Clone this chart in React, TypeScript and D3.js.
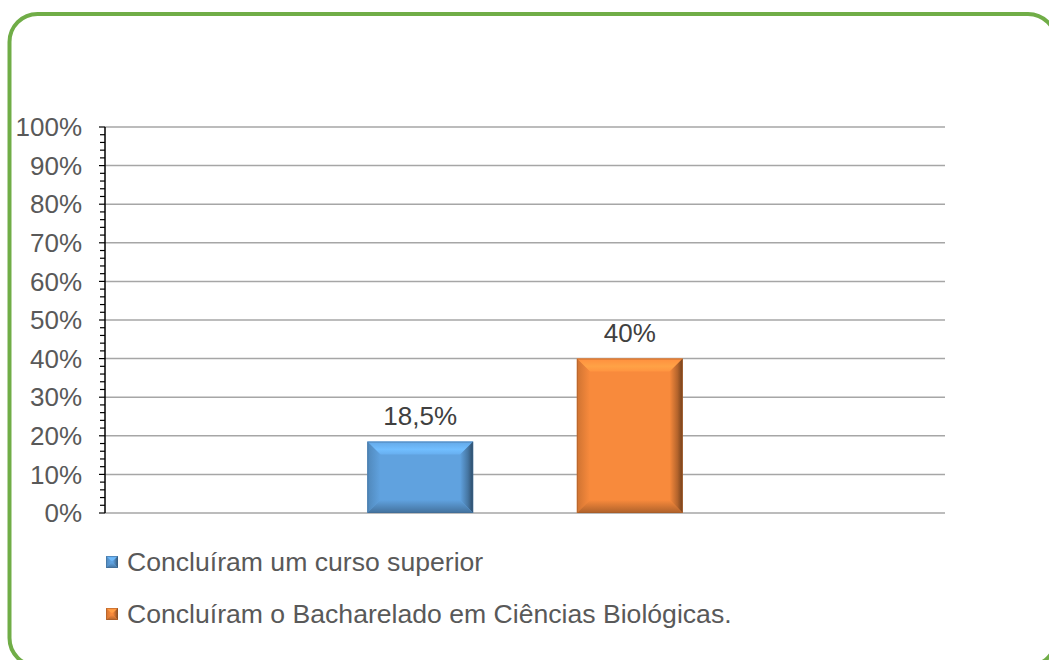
import React from "react";
import * as d3 from "d3";

const seriesNames = [
  "Concluíram um curso superior",
  "Concluíram o Bacharelado em Ciências Biológicas.",
];
const seriesValues = [18.5, 40];
const valueLabels = ["18,5%", "40%"];
const seriesColors = ["#60A2DF", "#F88A3C"];
const yTicks = [0, 10, 20, 30, 40, 50, 60, 70, 80, 90, 100];

const W = 1049;
const H = 660;
const plotLeft = 105;
const plotRight = 945;
const plotTop = 127;
const plotBottom = 513;

function shade(c: string, k: number) {
  const col = d3.color(c)!;
  return k > 0 ? col.brighter(k).formatHex() : col.darker(-k).formatHex();
}

function BevelRect({ id, x, y, w, h, color, b }: { id: string; x: number; y: number; w: number; h: number; color: string; b: number }) {
  const bb = Math.min(b, w / 2, h / 2);
  const x2 = x + w, y2 = y + h;
  return (
    <g>
      <defs>
        <linearGradient id={id + "t"} x1="0" y1="0" x2="0" y2="1">
          <stop offset="0" stopColor={shade(color, 0.1)} />
          <stop offset="0.6" stopColor={shade(color, 0.45)} />
          <stop offset="1" stopColor={shade(color, 0.2)} />
        </linearGradient>
        <linearGradient id={id + "l"} x1="0" y1="0" x2="1" y2="0">
          <stop offset="0" stopColor={shade(color, -0.5)} />
          <stop offset="1" stopColor={color} />
        </linearGradient>
        <linearGradient id={id + "r"} x1="0" y1="0" x2="1" y2="0">
          <stop offset="0" stopColor={color} />
          <stop offset="0.6" stopColor={shade(color, -0.9)} />
          <stop offset="1" stopColor={shade(color, -2.2)} />
        </linearGradient>
        <linearGradient id={id + "b"} x1="0" y1="0" x2="0" y2="1">
          <stop offset="0" stopColor={color} />
          <stop offset="1" stopColor={shade(color, -1.0)} />
        </linearGradient>
      </defs>
      <rect x={x} y={y} width={w} height={h} fill={color} />
      <polygon points={`${x},${y} ${x2},${y} ${x2 - bb},${y + bb} ${x + bb},${y + bb}`} fill={`url(#${id}t)`} />
      <polygon points={`${x},${y} ${x + bb},${y + bb} ${x + bb},${y2 - bb} ${x},${y2}`} fill={`url(#${id}l)`} />
      <polygon points={`${x2},${y} ${x2},${y2} ${x2 - bb},${y2 - bb} ${x2 - bb},${y + bb}`} fill={`url(#${id}r)`} />
      <polygon points={`${x},${y2} ${x + bb},${y2 - bb} ${x2 - bb},${y2 - bb} ${x2},${y2}`} fill={`url(#${id}b)`} />
      <rect x={x + 0.5} y={y + 0.5} width={w - 1} height={h - 1} fill="none" stroke={shade(color, -1.2)} strokeOpacity={0.5} strokeWidth={1} />
    </g>
  );
}

export default function App() {
  const y = d3.scaleLinear().domain([0, 100]).range([plotBottom, plotTop]);
  const x = d3
    .scaleBand<string>()
    .domain(seriesNames)
    .range([plotLeft, plotRight])
    .paddingInner(0.495)
    .paddingOuter(1.252);
  const minor = d3.range(0, 100.001, 2);
  const font = "'Liberation Sans', Arial, sans-serif";

  return (
    <svg width={W} height={H} style={{ position: "absolute", left: 0, top: 0 }}>
      <rect x={0} y={0} width={W} height={H} fill="#fff" />
      <rect x={9.5} y={14} width={1046.5} height={652} rx={28} ry={28} fill="none" stroke="#70AD47" strokeWidth={4} />
      {yTicks.map((t) => (
        <line key={"g" + t} x1={plotLeft} x2={plotRight} y1={y(t)} y2={y(t)} stroke="#A6A6A6" strokeWidth={1.5} />
      ))}
      {seriesNames.map((s, i) => {
        const v = seriesValues[i];
        const bx = x(s)!;
        const bw = x.bandwidth();
        return (
          <g key={s}>
            <BevelRect id={"bar" + i} x={bx} y={y(v)} w={bw} h={y(0) - y(v)} color={seriesColors[i]} b={13} />
            <text x={bx + bw / 2} y={y(v) - 17} textAnchor="middle" fontFamily={font} fontSize={26} fill="#404040">
              {valueLabels[i]}
            </text>
          </g>
        );
      })}
      <line x1={plotLeft} x2={plotLeft} y1={plotTop} y2={plotBottom} stroke="#000" strokeWidth={1.5} />
      {minor.map((t) => (
        <line key={"m" + t} x1={plotLeft - (t % 10 === 0 ? 6 : 5)} x2={plotLeft} y1={y(t)} y2={y(t)} stroke="#000" strokeWidth={1.2} />
      ))}
      {yTicks.map((t) => (
        <text key={"t" + t} x={82} y={y(t)} dy="0.35em" textAnchor="end" fontFamily={font} fontSize={26} fill="#595959">
          {t}%
        </text>
      ))}
      {seriesNames.map((s, i) => (
        <g key={"l" + s} transform={`translate(106, ${556 + i * 52})`}>
          <BevelRect id={"leg" + i} x={0} y={0} w={12} h={12} color={seriesColors[i]} b={5} />
          <text x={21} y={6} dy="0.35em" fontFamily={font} fontSize={26.6} fill="#595959">
            {s}
          </text>
        </g>
      ))}
    </svg>
  );
}
